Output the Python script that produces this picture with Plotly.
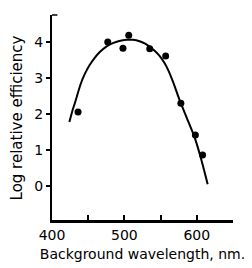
import plotly.graph_objects as go

# Measured data points
pt_x = [436, 477, 498, 506, 535, 557, 578, 598, 608]
pt_y = [2.06, 4.0, 3.83, 4.19, 3.81, 3.61, 2.3, 1.42, 0.86]

# Fitted curve
cv_x = [424, 428, 432, 439, 445, 452, 459, 466, 475, 484, 493, 503, 512, 521, 528, 535, 541, 548, 555, 561, 568, 576, 586, 597, 606, 615]
cv_y = [1.78, 2.08, 2.33, 2.8, 3.1, 3.36, 3.56, 3.72, 3.87, 3.97, 4.03, 4.06, 4.06, 4.02, 3.96, 3.87, 3.77, 3.63, 3.43, 3.2, 2.85, 2.4, 1.9, 1.35, 0.75, 0.05]

x_tickvals = [400, 450, 500, 550, 600, 650]
x_ticktext = ["400", "", "500", "", "600", ""]
y_tickvals = [0, 1, 2, 3, 4]
y_ticktext = ["0", "1", "2", "3", "4"]

font = "DejaVu Sans"

fig = go.Figure()
fig.add_trace(go.Scatter(x=cv_x, y=cv_y, mode="lines",
                         line=dict(color="black", width=2, shape="spline", smoothing=0.6),
                         hoverinfo="skip", showlegend=False))
fig.add_trace(go.Scatter(x=pt_x, y=pt_y, mode="markers",
                         marker=dict(color="black", size=7),
                         showlegend=False))

fig.update_layout(
    width=244, height=260,
    margin=dict(l=44, r=19, t=7, b=47, pad=0),
    paper_bgcolor="white", plot_bgcolor="white",
    font=dict(family=font, color="black", size=14),
    xaxis=dict(range=[400, 650], tickmode="array", tickvals=x_tickvals, ticktext=x_ticktext,
               ticks="inside", ticklen=6, tickwidth=1.5, tickcolor="black",
               showline=True, linecolor="black", linewidth=2, mirror=False,
               showgrid=False, zeroline=False, automargin=False,
               tickfont=dict(size=14, family=font),
               title=dict(text="Background wavelength, nm.", font=dict(size=14, family=font), standoff=7)),
    yaxis=dict(range=[-0.97, 4.75], tickmode="array", tickvals=y_tickvals, ticktext=y_ticktext,
               ticks="outside", ticklen=4, tickwidth=1.5, tickcolor="black",
               showline=True, linecolor="black", linewidth=2, mirror=False,
               showgrid=False, zeroline=False, automargin=False,
               tickfont=dict(size=14, family=font),
               title=dict(text="Log relative efficiency", font=dict(size=15, family=font), standoff=11)),
    shapes=[
        # bottom axis line
        dict(type="line", xref="x domain", yref="y domain", x0=0, x1=1, y0=0, y1=0,
             line=dict(color="black", width=2), layer="above"),
        # small bracket tick at top of y axis
        dict(type="line", xref="x domain", yref="y domain", x0=0, x1=0.03, y0=1, y1=1,
             line=dict(color="black", width=1.5), layer="above"),
    ],
)

fig.write_html("out.html")
